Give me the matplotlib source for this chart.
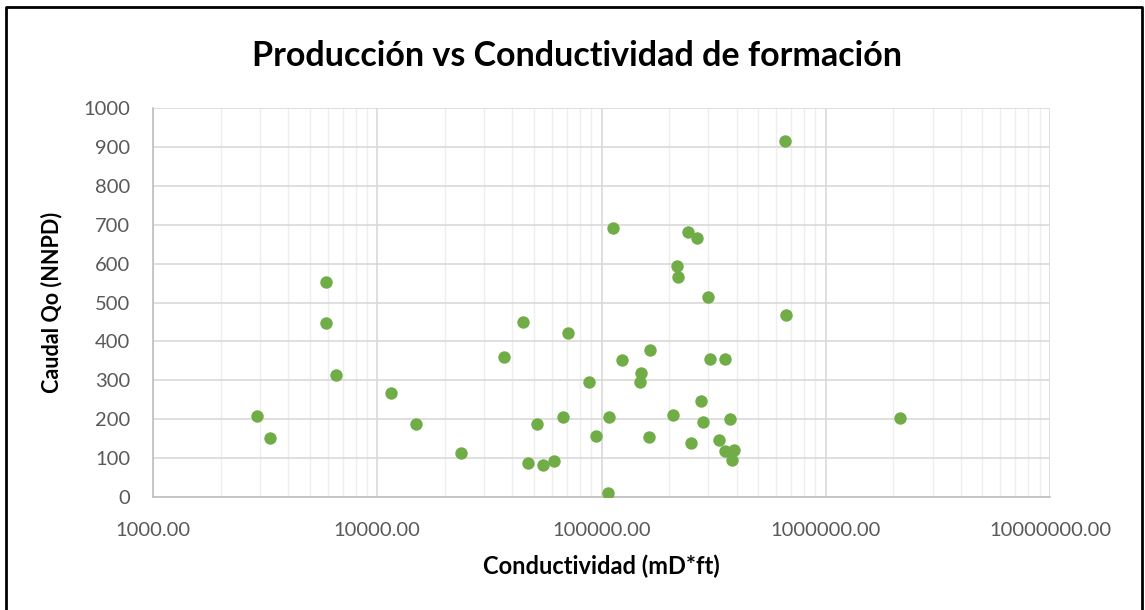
import matplotlib.pyplot as plt
from matplotlib.ticker import FixedLocator, LogLocator, NullFormatter, FuncFormatter
from matplotlib.lines import Line2D

plt.rcParams['font.family'] = ['Lato', 'DejaVu Sans']

# Data
conductividad = [2900, 3310, 5910, 5910, 6570, 11550, 14840, 23550, 36870, 44820,
                 47190, 51740, 54680, 61380, 67330, 70900, 87660, 94500,
                 658000, 112200, 243800, 267400, 216400, 219400, 297600, 667000,
                 164600, 123000, 305900, 354300, 150000, 148000, 278600, 209100,
                 108300, 283600, 372900, 162800, 250600, 335200, 356500, 388500,
                 381900, 106900, 2143000]
caudal = [207, 151, 553, 448, 313, 267, 188, 112, 360, 451,
          87, 188, 82, 92, 205, 422, 296, 158,
          915, 692, 682, 667, 594, 566, 514, 468,
          379, 353, 356, 356, 318, 296, 248, 211,
          205, 192, 201, 155, 140, 146, 119, 120,
          96, 11, 204]

fig = plt.figure(figsize=(11.45, 6.1), dpi=100)
ax = fig.add_axes([153/1145, 1 - 497/610, (1050 - 153)/1145, (497 - 108)/610])

ax.scatter(conductividad, caudal, s=80, color='#70AD47', zorder=3, linewidths=0)

ax.set_xscale('log')
ax.set_xlim(1000, 10000000)
ax.set_ylim(0, 1000)
ax.yaxis.set_major_locator(FixedLocator(range(0, 1001, 100)))
ax.xaxis.set_major_locator(LogLocator(base=10, numticks=10))
ax.xaxis.set_minor_locator(LogLocator(base=10, subs=range(2, 10), numticks=20))
ax.xaxis.set_minor_formatter(NullFormatter())
ax.xaxis.set_major_formatter(FuncFormatter(lambda v, p: f'{v:.2f}'))

ax.grid(True, which='major', color='#d9d9d9', linewidth=1.2, zorder=0)
ax.grid(True, which='minor', axis='x', color='#eeeeee', linewidth=1.0, zorder=0)
ax.set_axisbelow(True)

for side in ['top', 'right']:
    ax.spines[side].set_visible(False)
for side in ['left', 'bottom']:
    ax.spines[side].set_color('#bfbfbf')
    ax.spines[side].set_linewidth(1.2)
ax.tick_params(which='both', length=0)
ax.tick_params(axis='both', labelsize=14.5, labelcolor='#595959')
ax.tick_params(axis='y', pad=16.5)
ax.tick_params(axis='x', pad=18)

ax.set_xlabel('Conductividad (mD*ft)', fontsize=17, fontweight='bold', labelpad=11)
ax.set_ylabel('Caudal Qo (NNPD)', fontsize=15.5, fontweight='bold', labelpad=15)

fig.text(0.504, 1 - 56/610, 'Producción vs Conductividad de formación',
         ha='center', va='center', fontsize=24.5, fontweight='bold')

# outer chart border (left, top, right edges; bottom runs off the image)
x0, x1, y1 = 6/1145, 1142/1145, 1 - 7/610
fig.add_artist(Line2D([x0, x0, x1, x1], [0, y1, y1, 0], transform=fig.transFigure,
                      color='black', linewidth=2))

plt.savefig('out.png', dpi=100)
